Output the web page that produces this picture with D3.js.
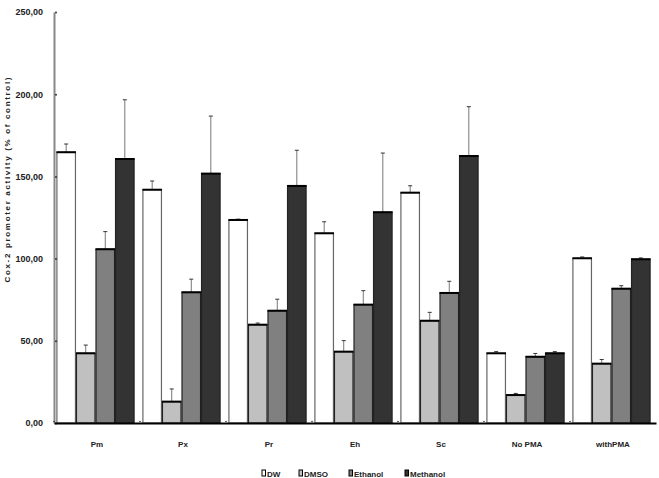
<!DOCTYPE html>
<html><head><meta charset="utf-8">
<script src="https://cdn.jsdelivr.net/npm/d3@7"></script>
<style>body{margin:0;background:#fff}</style>
</head><body>
<svg id="c" width="659" height="478"></svg>
<script>
const categories = ["Pm","Px","Pr","Eh","Sc","No PMA","withPMA"];
const seriesNames = ["DW","DMSO","Ethanol","Methanol"];
const dwValues = [164.7,141.9,123.5,115.4,140.1,42.4,100.2];
const dwErrors = [5,5.3,0.5,7,4.2,1,0.8];
const dmsoValues = [42.4,13.0,59.8,43.4,62.2,17.0,36.1];
const dmsoErrors = [5,7.7,1,6.7,5.1,1,2.5];
const ethanolValues = [105.7,79.5,68.3,72.0,79.1,40.3,81.7];
const ethanolErrors = [10.7,8,7,8.5,7.1,2,1.8];
const methanolValues = [160.6,151.7,144.2,128.2,162.4,42.4,99.6];
const methanolErrors = [36,35,21.7,36,30,1,0.8];
const yTicks = [0,50,100,150,200,250];
const colors = ["#ffffff","#c0c0c0","#808080","#333333"];

const values = [dwValues,dmsoValues,ethanolValues,methanolValues];
const errors = [dwErrors,dmsoErrors,ethanolErrors,methanolErrors];

const svg = d3.select("#c");
const m = {l:54, r:3, t:12, b:55};
const W = 659, H = 478;
const y = d3.scaleLinear().domain([0,250]).range([H-m.b, m.t]);
const x0 = d3.scaleBand().domain(categories).range([m.l, W-m.r]).padding(0);
const x1 = d3.scaleBand().domain(seriesNames).range([0, x0.bandwidth()]).paddingInner(0).paddingOuter(0.2);

const fmt = v => d3.format(".2f")(v).replace(".", ",");

// bars
const g = svg.append("g");
categories.forEach((c, ci) => {
  seriesNames.forEach((s, si) => {
    const v = values[si][ci], e = errors[si][ci];
    const bx = x0(c) + x1(s) - 1.5, bw = x1.bandwidth();
    const cx = bx + bw/2;
    g.append("line").attr("x1", cx).attr("x2", cx)
      .attr("y1", y(v)).attr("y2", y(v+e)).attr("stroke", "#777").attr("stroke-width", 1);
    g.append("line").attr("x1", cx-2).attr("x2", cx+2)
      .attr("y1", y(v+e)).attr("y2", y(v+e)).attr("stroke", "#333").attr("stroke-width", 1);
    g.append("rect").attr("x", bx+0.5).attr("y", y(v)).attr("width", bw-1).attr("height", y(0)-y(v))
      .attr("fill", colors[si]).attr("stroke", si===0 ? "#666" : "#222").attr("stroke-width", 1.2);
    g.append("line").attr("x1", bx).attr("x2", bx+bw).attr("y1", y(v)).attr("y2", y(v))
      .attr("stroke", "#000").attr("stroke-width", 2);
  });
});

// y axis
const yAxis = d3.axisLeft(y).tickValues(yTicks).tickFormat(fmt).tickSize(0).tickPadding(11);
const ya = svg.append("g").attr("transform", `translate(${m.l},0)`).call(yAxis);
ya.select(".domain").attr("stroke", "#888").attr("stroke-width", 2);
ya.selectAll("text").attr("font-family", "'Liberation Sans Narrow', 'Liberation Sans', Arial, sans-serif")
  .attr("font-weight", "bold").attr("font-size", 9).attr("fill", "#222");
ya.selectAll(".tick").append("circle").attr("cx", 2).attr("r", 1).attr("fill", "#333");

// x axis
const xAxis = d3.axisBottom(x0).tickSize(0).tickPadding(18);
const xa = svg.append("g").attr("transform", `translate(0,${y(0)})`).call(xAxis);
xa.select(".domain").attr("stroke", "#000").attr("stroke-width", 2);
xa.selectAll("text").attr("font-family", "'Liberation Sans', Arial, sans-serif")
  .attr("font-weight", "bold").attr("font-size", 8).attr("fill", "#222");
categories.forEach(c => {
  svg.append("circle").attr("cx", x0(c)).attr("cy", y(0)-1.5).attr("r", 0.8).attr("fill", "#333");
});

// y title
svg.append("text").attr("transform", `translate(10,180) rotate(-90)`)
  .attr("text-anchor", "middle").attr("font-family", "'Liberation Sans', Arial, sans-serif")
  .attr("font-weight", "bold").attr("font-size", 8).attr("fill", "#222")
  .attr("textLength", 205).attr("lengthAdjust", "spacing")
  .text("Cox-2 promoter activity (% of control)");

// legend
const legendX = [262, 299, 349, 405];
const lg = svg.append("g");
seriesNames.forEach((s, i) => {
  lg.append("rect").attr("x", legendX[i]).attr("y", 470).attr("width", 3.5).attr("height", 6)
    .attr("fill", colors[i]).attr("stroke", "#000").attr("stroke-width", 1);
  lg.append("text").attr("x", legendX[i]+5).attr("y", 477).attr("font-family", "'Liberation Sans', Arial, sans-serif")
    .attr("font-weight", "bold").attr("font-size", 8).attr("fill", "#222").text(s);
});
</script>
</body></html>
